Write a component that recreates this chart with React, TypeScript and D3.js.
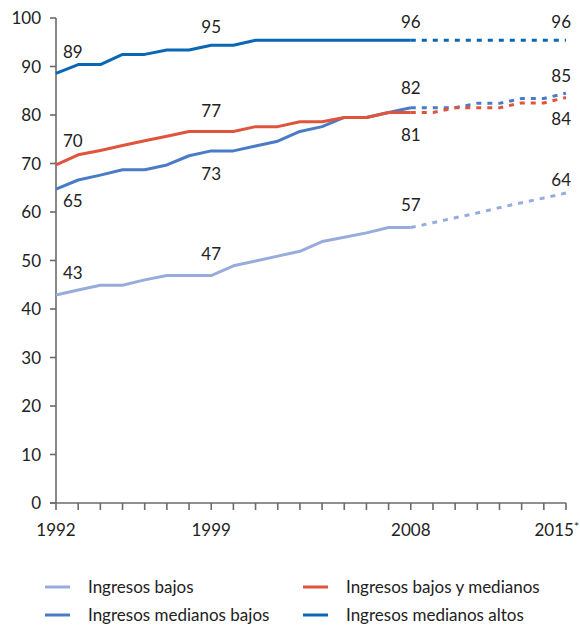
import { useEffect, useRef } from "react";
import * as d3 from "d3";

// años del eje
const years = d3.range(1992, 2016);
const lastObserved = 2008;

// valores observados 1992-2008
const bajos = [42.9, 43.9, 44.9, 44.9, 46.0, 46.9, 46.9, 46.9, 48.9, 49.9, 50.9, 51.9, 53.9, 54.8, 55.7, 56.8, 56.8];
const bajosMedianos = [69.7, 71.8, 72.7, 73.7, 74.7, 75.6, 76.6, 76.6, 76.6, 77.6, 77.6, 78.6, 78.6, 79.5, 79.5, 80.5, 80.5];
const medianosBajos = [64.7, 66.6, 67.6, 68.7, 68.7, 69.7, 71.6, 72.6, 72.6, 73.6, 74.6, 76.6, 77.6, 79.5, 79.5, 80.5, 81.5];
const medianosAltos = [88.6, 90.4, 90.4, 92.5, 92.5, 93.4, 93.4, 94.4, 94.4, 95.4, 95.4, 95.4, 95.4, 95.4, 95.4, 95.4, 95.4];

// proyecciones 2008-2015*
const bajosProy = [56.8, 57.8, 58.8, 59.8, 60.9, 61.9, 62.9, 63.9];
const bajosMedianosProy = [80.5, 80.5, 81.5, 81.5, 81.5, 82.5, 82.5, 83.6];
const medianosBajosProy = [81.5, 81.5, 81.5, 82.4, 82.4, 83.4, 83.4, 84.5];
const medianosAltosProy = [95.4, 95.4, 95.4, 95.4, 95.4, 95.4, 95.4, 95.4];

const seriesNames = ["Ingresos bajos", "Ingresos medianos bajos", "Ingresos bajos y medianos", "Ingresos medianos altos"];
const seriesColors = ["#98acdc", "#4a7bc6", "#e0533c", "#0a67b4"];

const yTicks = [0, 10, 20, 30, 40, 50, 60, 70, 80, 90, 100];
const xLabelYears = [1992, 1999, 2008, 2015];
const xLabelTexts = ["1992", "1999", "2008", "2015*"];

// etiquetas de valores: [serie, año, texto]
const valueLabels: [number, number, string][] = [
  [3, 1992, "89"], [3, 1999, "95"], [3, 2008, "96"], [3, 2015, "96"],
  [2, 1992, "70"], [2, 1999, "77"], [2, 2008, "81"], [2, 2015, "84"],
  [1, 1992, "65"], [1, 1999, "73"], [1, 2008, "82"], [1, 2015, "85"],
  [0, 1992, "43"], [0, 1999, "47"], [0, 2008, "57"], [0, 2015, "64"],
];
// desplazamiento vertical de cada etiqueta respecto a su punto (px)
const labelDy = [-21, -18, -18, -18, -24, -20, 22, 21, 12, 23, -20, -17, -22, -22, -23, -13];

export default function App() {
  const ref = useRef<SVGSVGElement>(null);
  const width = 580;
  const height = 626;

  useEffect(() => {
    const svg = d3.select(ref.current);
    svg.selectAll("*").remove();

    const x = d3.scaleLinear().domain([1992, 2015]).range([56, 566]);
    const y = d3.scaleLinear().domain([0, 100]).range([503, 18]);
    const font = "Lato, 'Noto Sans', sans-serif";
    const axisColor = "#6b6b6b";

    const observed = [bajos, medianosBajos, bajosMedianos, medianosAltos];
    const projected = [bajosProy, medianosBajosProy, bajosMedianosProy, medianosAltosProy];

    // eje y
    svg.append("line")
      .attr("x1", x(1992)).attr("x2", x(1992))
      .attr("y1", y(0)).attr("y2", y(100))
      .attr("stroke", axisColor).attr("stroke-width", 1.6);
    yTicks.forEach((t) => {
      svg.append("line")
        .attr("x1", x(1992) - 6).attr("x2", x(1992))
        .attr("y1", y(t)).attr("y2", y(t))
        .attr("stroke", axisColor).attr("stroke-width", 1.6);
      svg.append("text")
        .attr("x", 41).attr("y", y(t) + 6)
        .attr("text-anchor", "end")
        .attr("font-family", font).attr("font-size", 17).attr("fill", "#222")
        .text(t);
    });

    // eje x
    svg.append("line")
      .attr("x1", x(1992) - 6).attr("x2", x(2015))
      .attr("y1", y(0)).attr("y2", y(0))
      .attr("stroke", axisColor).attr("stroke-width", 1.6);
    years.forEach((yr) => {
      svg.append("line")
        .attr("x1", x(yr)).attr("x2", x(yr))
        .attr("y1", y(0)).attr("y2", y(0) + 7)
        .attr("stroke", axisColor).attr("stroke-width", 1.6);
    });
    xLabelYears.forEach((yr, i) => {
      const last = i === xLabelYears.length - 1;
      const t = svg.append("text")
        .attr("x", last ? x(yr) + 13 : x(yr)).attr("y", 536)
        .attr("text-anchor", last ? "end" : "middle")
        .attr("font-family", font).attr("font-size", 17).attr("fill", "#222");
      if (last) {
        t.append("tspan").text(xLabelTexts[i].replace("*", ""));
        t.append("tspan").attr("font-size", 12).attr("dy", -5).text("*");
      } else {
        t.text(xLabelTexts[i]);
      }
    });

    const line = d3.line<[number, number]>()
      .x((d) => x(d[0]))
      .y((d) => y(d[1]));

    observed.forEach((vals, s) => {
      const pts = vals.map((v, i) => [years[i], v] as [number, number]);
      const proj = projected[s].map((v, i) => [lastObserved + i, v] as [number, number]);
      svg.append("path")
        .attr("d", line(proj))
        .attr("fill", "none")
        .attr("stroke", seriesColors[s]).attr("stroke-width", 3)
        .attr("stroke-dasharray", "5,6");
      svg.append("path")
        .attr("d", line(pts))
        .attr("fill", "none")
        .attr("stroke", seriesColors[s]).attr("stroke-width", 3)
        .attr("stroke-linejoin", "round");
    });

    // etiquetas de valores
    valueLabels.forEach(([s, yr, txt], i) => {
      const idx = yr - 1992;
      const v = yr <= lastObserved ? observed[s][idx] : projected[s][yr - lastObserved];
      let px = x(yr);
      let anchor = "middle";
      if (yr === 1992) { px = x(yr) + 7; anchor = "start"; }
      if (yr === 2015) { px = x(yr) + 5; anchor = "end"; }
      svg.append("text")
        .attr("x", px).attr("y", y(v) + labelDy[i] + 6)
        .attr("text-anchor", anchor)
        .attr("font-family", font).attr("font-size", 17).attr("fill", "#222")
        .text(txt);
    });

    // leyenda
    const legendPos = [[45, 587], [45, 615], [303, 587], [303, 615]];
    seriesNames.forEach((name, s) => {
      const [lx, ly] = legendPos[s];
      svg.append("line")
        .attr("x1", lx).attr("x2", lx + 25)
        .attr("y1", ly).attr("y2", ly)
        .attr("stroke", seriesColors[s]).attr("stroke-width", 3);
      svg.append("text")
        .attr("x", lx + 43).attr("y", ly + 6)
        .attr("font-family", font).attr("font-size", 17).attr("fill", "#222")
        .text(name);
    });
  }, []);

  return (
    <svg
      ref={ref}
      width={width}
      height={height}
      style={{ position: "absolute", left: 0, top: 0, background: "#fff" }}
    />
  );
}
